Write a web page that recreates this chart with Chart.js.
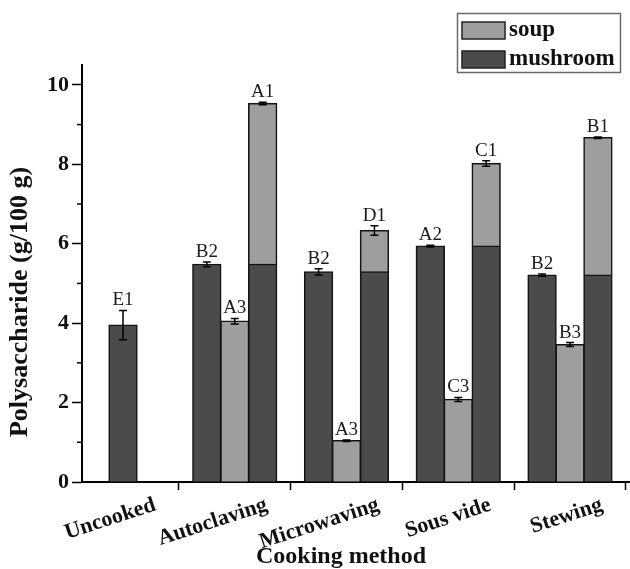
<!DOCTYPE html>
<html><head><meta charset="utf-8">
<script src="https://cdn.jsdelivr.net/npm/chart.js@4.4.0/dist/chart.umd.min.js"></script>
<style>html,body{margin:0;padding:0;background:#fff}canvas{display:block}</style>
</head><body>
<canvas id="c" width="630" height="569"></canvas>
<script>
const categories = ['Uncooked', 'Autoclaving', 'Microwaving', 'Sous vide', 'Stewing'];
const mushroom = [3.95, 5.48, 5.29, 5.94, 5.21];
const soup = [null, 4.05, 1.04, 2.08, 3.46];
const mushroomErr = [0.37, 0.06, 0.08, 0.02, 0.03];
const soupErr = [0, 0.07, 0.02, 0.05, 0.05];
const totalErr = [0, 0.03, 0.12, 0.07, 0.02];
const mushroomLetters = ['E1', 'B2', 'B2', 'A2', 'B2'];
const soupLetters = ['', 'A3', 'A3', 'C3', 'B3'];
const totalLetters = ['', 'A1', 'D1', 'C1', 'B1'];
const yTicks = [0, 1, 2, 3, 4, 5, 6, 7, 8, 9, 10];
const yLabels = ['0', '', '2', '', '4', '', '6', '', '8', '', '10'];
const seriesNames = ['soup', 'mushroom'];
const xTitle = 'Cooking method';
const yTitle = 'Polysaccharide (g/100 g)';

const DARK = '#4b4b4b', LIGHT = '#9e9e9e', EDGE = '#151515';
const SERIF = "'Liberation Serif', 'Times New Roman', serif";
Chart.defaults.font.family = SERIF;

const pts = arr => arr.map((v, i) => ({x: i, y: v}));
const cooked = arr => arr.map((v, i) => soup[i] == null ? null : v);
const raw = arr => arr.map((v, i) => soup[i] == null ? v : null);
const common = {borderColor: EDGE, borderWidth: 1.6, categoryPercentage: 0.75, barPercentage: 1, inflateAmount: 0.7};

const annot = {
  id: 'annot',
  afterDatasetsDraw(chart) {
    const ctx = chart.ctx, ys = chart.scales.y;
    const area = chart.chartArea;
    ctx.save();
    const items = [];
    categories.forEach((c, i) => {
      if (soup[i] == null) items.push([1, i, mushroom[i], mushroomErr[i], mushroomLetters[i]]);
      else {
        items.push([0, i, mushroom[i], mushroomErr[i], mushroomLetters[i]]);
        items.push([2, i, soup[i], soupErr[i], soupLetters[i]]);
        items.push([4, i, mushroom[i] + soup[i], totalErr[i], totalLetters[i]]);
      }
    });
    items.forEach(([d, i, v, e, lab]) => {
      const el = chart.getDatasetMeta(d).data[i];
      const x = el.x;
      const yt = ys.getPixelForValue(v + e), yb = ys.getPixelForValue(v - e);
      ctx.strokeStyle = '#000';
      ctx.lineWidth = 1.5;
      ctx.beginPath();
      ctx.moveTo(x, yt); ctx.lineTo(x, yb);
      ctx.moveTo(x - 4, yt); ctx.lineTo(x + 4, yt);
      ctx.moveTo(x - 4, yb); ctx.lineTo(x + 4, yb);
      ctx.stroke();
      ctx.fillStyle = '#1a1a1a';
      ctx.font = '19px ' + SERIF;
      ctx.textAlign = 'center';
      ctx.textBaseline = 'alphabetic';
      ctx.fillText(lab, x, yt - 5);
    });
    // minor y ticks
    ctx.strokeStyle = '#000';
    ctx.lineWidth = 1.5;
    yTicks.forEach((v, k) => {
      if (yLabels[k]) return;
      const py = ys.getPixelForValue(v);
      ctx.beginPath(); ctx.moveTo(area.left - 5, py); ctx.lineTo(area.left, py); ctx.stroke();
    });
    // legend
    ctx.strokeStyle = '#6a6a6a';
    ctx.lineWidth = 1.5;
    ctx.strokeRect(457.5, 13.5, 163, 59);
    const sw = [[LIGHT, 22], [DARK, 51]];
    sw.forEach(([col, y0], k) => {
      ctx.fillStyle = col;
      ctx.fillRect(462, y0, 43, 17);
      ctx.strokeStyle = '#222';
      ctx.lineWidth = 1.5;
      ctx.strokeRect(462, y0, 43, 17);
      ctx.fillStyle = '#111';
      ctx.font = 'bold 23px ' + SERIF;
      ctx.textAlign = 'left';
      ctx.textBaseline = 'middle';
      ctx.fillText(seriesNames[k], 509, y0 + 8);
    });
    // axis titles
    ctx.fillStyle = '#111';
    ctx.font = 'bold 24px ' + SERIF;
    ctx.textAlign = 'center';
    ctx.textBaseline = 'middle';
    ctx.fillText(xTitle, 341, 557);
    ctx.font = 'bold 26px ' + SERIF;
    ctx.translate(20, 302);
    ctx.rotate(-Math.PI / 2);
    ctx.fillText(yTitle, 0, 0);
    ctx.restore();
  }
};

new Chart(document.getElementById('c'), {
  type: 'bar',
  data: {
    datasets: [
      Object.assign({label: 'mushroom', data: pts(cooked(mushroom)), stack: 'a', backgroundColor: DARK}, common),
      Object.assign({label: 'mushroom', data: pts(raw(mushroom)), stack: 'b', backgroundColor: DARK}, common),
      Object.assign({label: 'soup', data: pts(soup), stack: 'b', backgroundColor: LIGHT}, common),
      Object.assign({label: 'mushroom', data: pts(cooked(mushroom)), stack: 'c', backgroundColor: DARK}, common),
      Object.assign({label: 'soup', data: pts(soup), stack: 'c', backgroundColor: LIGHT}, common)
    ]
  },
  options: {
    responsive: false,
    animation: false,
    devicePixelRatio: 1,
    layout: {padding: {top: 65, right: 0, left: 0, bottom: 0}},
    plugins: {legend: {display: false}, tooltip: {enabled: false}},
    scales: {
      x: {
        type: 'linear', min: -0.367, max: 4.537, offset: false,
        afterBuildTicks: s => { s.ticks = categories.map((c, i) => ({value: i})); },
        ticks: {callback: v => categories[v] ?? '', minRotation: 18, maxRotation: 18, labelOffset: 32,
                padding: 2, color: '#111', autoSkip: false, font: {size: 22, weight: 'bold'}},
        grid: {drawOnChartArea: false, tickLength: 8, tickColor: '#000', tickWidth: 1.5},
        border: {display: true, color: '#000', width: 2},
        afterFit: s => { s.height = 87; s.paddingLeft = 0; s.paddingRight = 0; }
      },
      y: {
        stacked: true, min: 0, max: 10.5,
        afterBuildTicks: s => { s.ticks = yTicks.map(v => ({value: v})); },
        ticks: {callback: (v, i) => yLabels[i], color: '#111', padding: 3, font: {size: 22, weight: 'bold'}},
        grid: {drawOnChartArea: false, tickLength: 10, tickWidth: 1.5,
               tickColor: c => yLabels[c.index] ? '#000' : 'rgba(0,0,0,0)'},
        border: {display: true, color: '#000', width: 2},
        afterFit: s => { s.width = 82; }
      }
    }
  },
  plugins: [annot]
});
</script>
</body></html>
